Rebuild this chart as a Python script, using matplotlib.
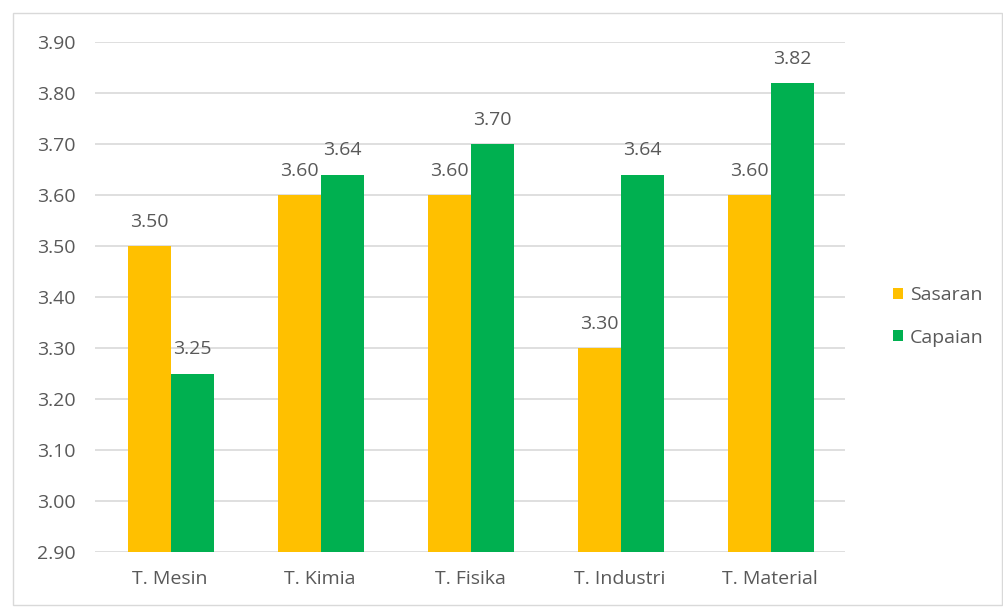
import numpy as np
import matplotlib.pyplot as plt
from matplotlib.patches import Rectangle

# data
categories = ["T. Mesin", "T. Kimia", "T. Fisika", "T. Industri", "T. Material"]
sasaran = [3.50, 3.60, 3.60, 3.30, 3.60]
capaian = [3.25, 3.64, 3.70, 3.64, 3.82]
yticks = [2.90, 3.00, 3.10, 3.20, 3.30, 3.40, 3.50, 3.60, 3.70, 3.80, 3.90]

plt.rcParams['font.family'] = ['Open Sans', 'DejaVu Sans']
text_col = "#595959"
fs = 14

fig = plt.figure(figsize=(10.04, 6.07), dpi=100)
ax = fig.add_axes([0.0946, 0.0906, 0.747, 0.8402])

# outer chart border
fig.patches.append(Rectangle((0.013, 0.004), 0.985, 0.975, transform=fig.transFigure,
                             fill=False, edgecolor="#D9D9D9", linewidth=1.0))

x = np.arange(len(categories))
w = 0.287
off = 0.005
ax.bar(x - w/2 + off, [v - 2.9 for v in sasaran], w, bottom=2.9, color="#FFC000", label="Sasaran")
ax.bar(x + w/2 + off, [v - 2.9 for v in capaian], w, bottom=2.9, color="#00B050", label="Capaian")

for xs, vals in ((x - w/2 + off, sasaran), (x + w/2 + off, capaian)):
    for xi, v in zip(xs, vals):
        ax.annotate(f"{v:.2f}", (xi, v), xytext=(0, 11), textcoords="offset points",
                    ha="center", va="bottom", fontsize=fs, color=text_col)

ax.set_ylim(2.9, 3.9)
ax.set_xlim(-0.5, len(categories) - 0.5)
ax.set_yticks(yticks)
ax.set_yticklabels([f"{t:.2f}" for t in yticks])
ax.set_xticks(x)
ax.set_xticklabels(categories)
ax.tick_params(axis="both", length=0, labelsize=fs, labelcolor=text_col)
ax.tick_params(axis="y", pad=14)
ax.tick_params(axis="x", pad=13)
ax.grid(axis="y", color="#D9D9D9", linewidth=1.2)
ax.set_axisbelow(True)
for s in ax.spines.values():
    s.set_visible(False)

ax.legend(loc="center left", bbox_to_anchor=(1.041, 0.462), frameon=False, fontsize=fs,
          handlelength=0.5, handleheight=0.5, handletextpad=0.35, labelspacing=1.25,
          labelcolor=text_col)

fig.savefig("out.png", dpi=100)
